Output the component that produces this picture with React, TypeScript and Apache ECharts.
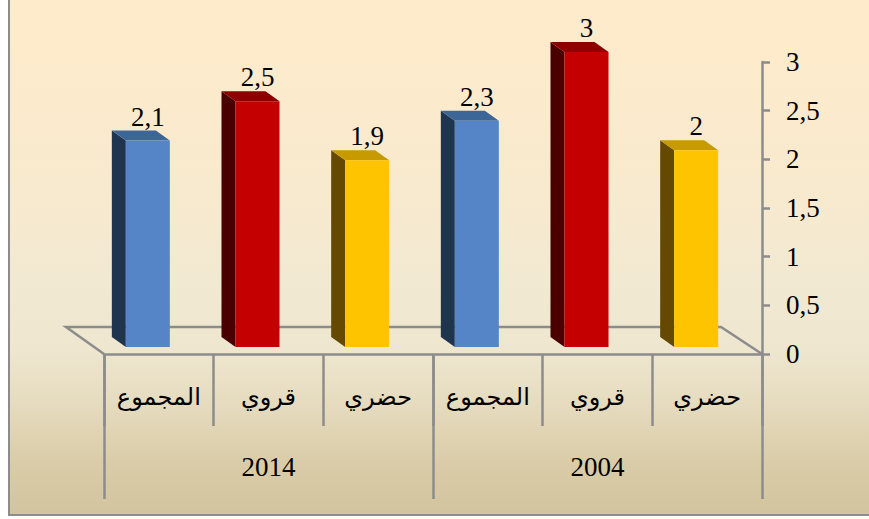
import React, { useEffect, useRef } from "react";
import * as echarts from "echarts";

const categories = ["المجموع", "قروي", "حضري", "المجموع", "قروي", "حضري"];
const years = ["2014", "2004"];
const values = [2.1, 2.5, 1.9, 2.3, 3, 2];
const yMin = 0;
const yMax = 3;
const yInterval = 0.5;

const frontColors = ["#5585C6", "#C40000", "#FFC400", "#5585C6", "#C40000", "#FFC400"];
const sideColors = ["#1F344F", "#4B0000", "#664900", "#1F344F", "#4B0000", "#664900"];
const topColors = ["#3C6698", "#8E0000", "#C69A00", "#3C6698", "#8E0000", "#C69A00"];

const GRAY = "#8C8C8C";
const SERIF = "'Liberation Serif', 'DejaVu Serif', serif";
const AR = "'Liberation Serif', 'DejaVu Sans', serif";

const fmt = (v: number) => String(v).replace(".", ",");

export default function App() {
  const ref = useRef<HTMLDivElement>(null);
  useEffect(() => {
    if (!ref.current) return;
    const chart = echarts.init(ref.current, undefined, { renderer: "svg" });
    const option: any = {
      animation: false,
      grid: [
        { left: 104, right: 107, top: 62, bottom: 165, containLabel: false },
        { left: 93, right: 118, top: 52, bottom: 172, containLabel: false },
      ],
      xAxis: [
        {
          type: "category",
          gridIndex: 0,
          data: categories,
          position: "bottom",
          axisLine: { show: true, lineStyle: { color: GRAY, width: 2.5 } },
          axisTick: { show: true, length: 72, lineStyle: { color: GRAY, width: 2.5 } },
          axisLabel: {
            color: "#000",
            fontSize: 24,
            fontFamily: AR,
            margin: 28,
            lineHeight: 30,
          },
        },
        {
          type: "category",
          gridIndex: 0,
          data: years,
          position: "bottom",
          axisLine: { show: false },
          axisTick: { show: true, length: 145, lineStyle: { color: GRAY, width: 2.5 } },
          axisLabel: {
            color: "#000",
            fontSize: 27,
            fontFamily: SERIF,
            margin: 98,
            lineHeight: 30,
          },
        },
        {
          type: "category",
          gridIndex: 1,
          data: categories,
          show: false,
        },
      ],
      yAxis: [
        {
          type: "value",
          gridIndex: 0,
          position: "right",
          min: yMin,
          max: yMax,
          interval: yInterval,
          splitLine: { show: false },
          axisLine: { show: true, lineStyle: { color: GRAY, width: 2.5 } },
          axisTick: { show: true, length: 8, lineStyle: { color: GRAY, width: 2.5 } },
          axisLabel: {
            color: "#000",
            fontSize: 27,
            fontFamily: SERIF,
            margin: 24,
            formatter: (v: number) => fmt(v),
          },
        },
        {
          type: "value",
          gridIndex: 1,
          min: yMin,
          max: yMax,
          interval: yInterval,
          show: false,
        },
      ],
      series: [
        {
          type: "custom",
          xAxisIndex: 0,
          yAxisIndex: 0,
          data: [[0, 0]],
          encode: { x: 0, y: 1 },
          silent: true,
          renderItem: (params: any, api: any) => {
            const first = api.coord([0, 0]);
            const last = api.coord([categories.length - 1, 0]);
            const bw = api.size([1, 0])[0];
            const x0 = first[0] - bw / 2;
            const x1 = last[0] + bw / 2;
            const y = first[1];
            const dx = -38;
            const dy = -27;
            return {
              type: "polyline",
              shape: {
                points: [
                  [x0, y],
                  [x0 + dx, y + dy],
                  [x1 + dx - 3, y + dy],
                  [x1, y],
                ],
              },
              style: { stroke: GRAY, lineWidth: 2.5, fill: "none" },
            };
          },
        },
        {
          type: "custom",
          xAxisIndex: 2,
          yAxisIndex: 1,
          data: values.map((v, i) => [i, v]),
          encode: { x: 0, y: 1 },
          renderItem: (params: any, api: any) => {
            const i = api.value(0);
            const v = api.value(1);
            const top = api.coord([i, v]);
            const base = api.coord([i, 0]);
            const hw = 22;
            const dx = -14;
            const dy = -10;
            const xl = top[0] - hw;
            const xr = top[0] + hw;
            const yt = top[1];
            const yb = base[1];
            return {
              type: "group",
              children: [
                {
                  type: "polygon",
                  shape: {
                    points: [
                      [xl, yt],
                      [xl + dx, yt + dy],
                      [xl + dx, yb + dy],
                      [xl, yb],
                    ],
                  },
                  style: { fill: sideColors[i] },
                },
                {
                  type: "polygon",
                  shape: {
                    points: [
                      [xl, yt],
                      [xr, yt],
                      [xr + dx, yt + dy],
                      [xl + dx, yt + dy],
                    ],
                  },
                  style: { fill: topColors[i] },
                },
                {
                  type: "rect",
                  shape: { x: xl, y: yt, width: xr - xl, height: yb - yt },
                  style: { fill: frontColors[i] },
                },
                {
                  type: "text",
                  style: {
                    text: fmt(v),
                    x: top[0],
                    y: yt - 24,
                    align: "center",
                    verticalAlign: "middle",
                    fill: "#000",
                    fontSize: 27,
                    fontFamily: SERIF,
                  },
                },
              ],
            };
          },
        },
      ],
    };
    chart.setOption(option);
    return () => chart.dispose();
  }, []);

  return (
    <div style={{ position: "fixed", left: 0, top: 0, width: 869, height: 519, background: "#fff" }}>
      <div
        style={{
          position: "absolute",
          left: 8,
          top: 0,
          width: 861,
          height: 516,
          borderLeft: `2.5px solid ${GRAY}`,
          borderBottom: `2.5px solid ${GRAY}`,
          boxSizing: "border-box",
          background:
            "linear-gradient(to bottom, #FEEBCB 0%, #FAEACD 30%, #F2E9D2 55%, #EEE6CF 68%, #E6DCC0 78%, #DACCA8 90%, #D2C49E 100%)",
        }}
      />
      <div ref={ref} style={{ position: "absolute", left: 0, top: 0, width: 869, height: 519 }} />
    </div>
  );
}
